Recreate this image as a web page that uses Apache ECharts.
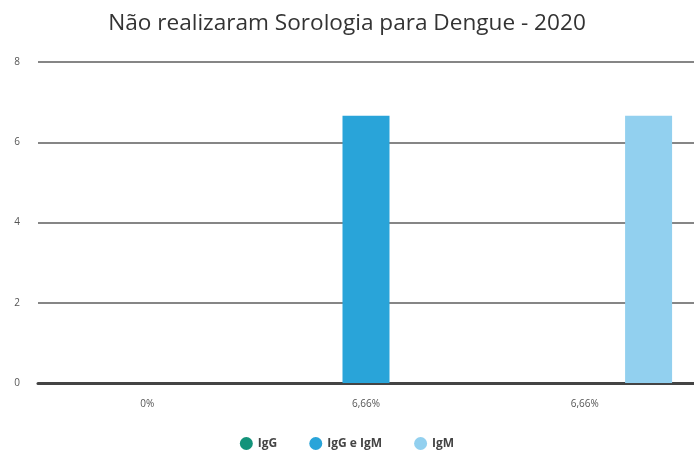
<!DOCTYPE html>
<html><head><meta charset="utf-8">
<script src="https://cdn.jsdelivr.net/npm/echarts@6/dist/echarts.min.js"></script>
<style>html,body{margin:0;padding:0;background:#fff}#c{width:694px;height:450px}</style>
</head><body><div id="c"></div>
<script>
const categories = ['0%', '6,66%', '6,66%'];
const seriesNames = ['IgG', 'IgG e IgM', 'IgM'];
const igG = [0, 0, 0];
const igGeIgM = [0, 6.66, 0];
const igM = [0, 0, 6.66];
const yTicks = [0, 2, 4, 6, 8];
const colors = ['#13937a', '#29a4d9', '#92d0ef'];

const chart = echarts.init(document.getElementById('c'));
const values = [igG, igGeIgM, igM];
chart.setOption({
  animation: false,
  color: colors,
  title: {
    text: 'Não realizaram Sorologia para Dengue - 2020',
    left: 'center', top: 7,
    textStyle: { fontFamily: 'Open Sans', fontSize: 22.6, fontWeight: 'normal', color: '#333' }
  },
  legend: {
    top: 432, left: 'center', icon: 'circle', itemWidth: 13, itemHeight: 13, itemGap: 32,
    textStyle: { fontFamily: 'Open Sans', fontSize: 12, fontWeight: 'bold', color: '#444' },
    data: seriesNames
  },
  grid: { left: 38, width: 666, top: 62, bottom: 67, containLabel: false },
  xAxis: {
    type: 'category', data: categories,
    axisLine: { lineStyle: { color: '#444', width: 3 } },
    axisTick: { show: false },
    axisLabel: { margin: 16, fontFamily: 'Open Sans', fontSize: 10, color: '#555' }
  },
  yAxis: {
    type: 'value', min: yTicks[0], max: yTicks[yTicks.length - 1], interval: 2,
    axisLine: { show: false }, axisTick: { show: false },
    axisLabel: { margin: 18, fontFamily: 'Open Sans', fontSize: 10, color: '#555' },
    splitLine: { lineStyle: { color: '#5e5e5e', width: 1.5 } }
  },
  series: seriesNames.map((n, i) => ({
    name: n, type: 'bar', data: values[i], barWidth: 47, barGap: '36%'
  }))
});
</script></body></html>
